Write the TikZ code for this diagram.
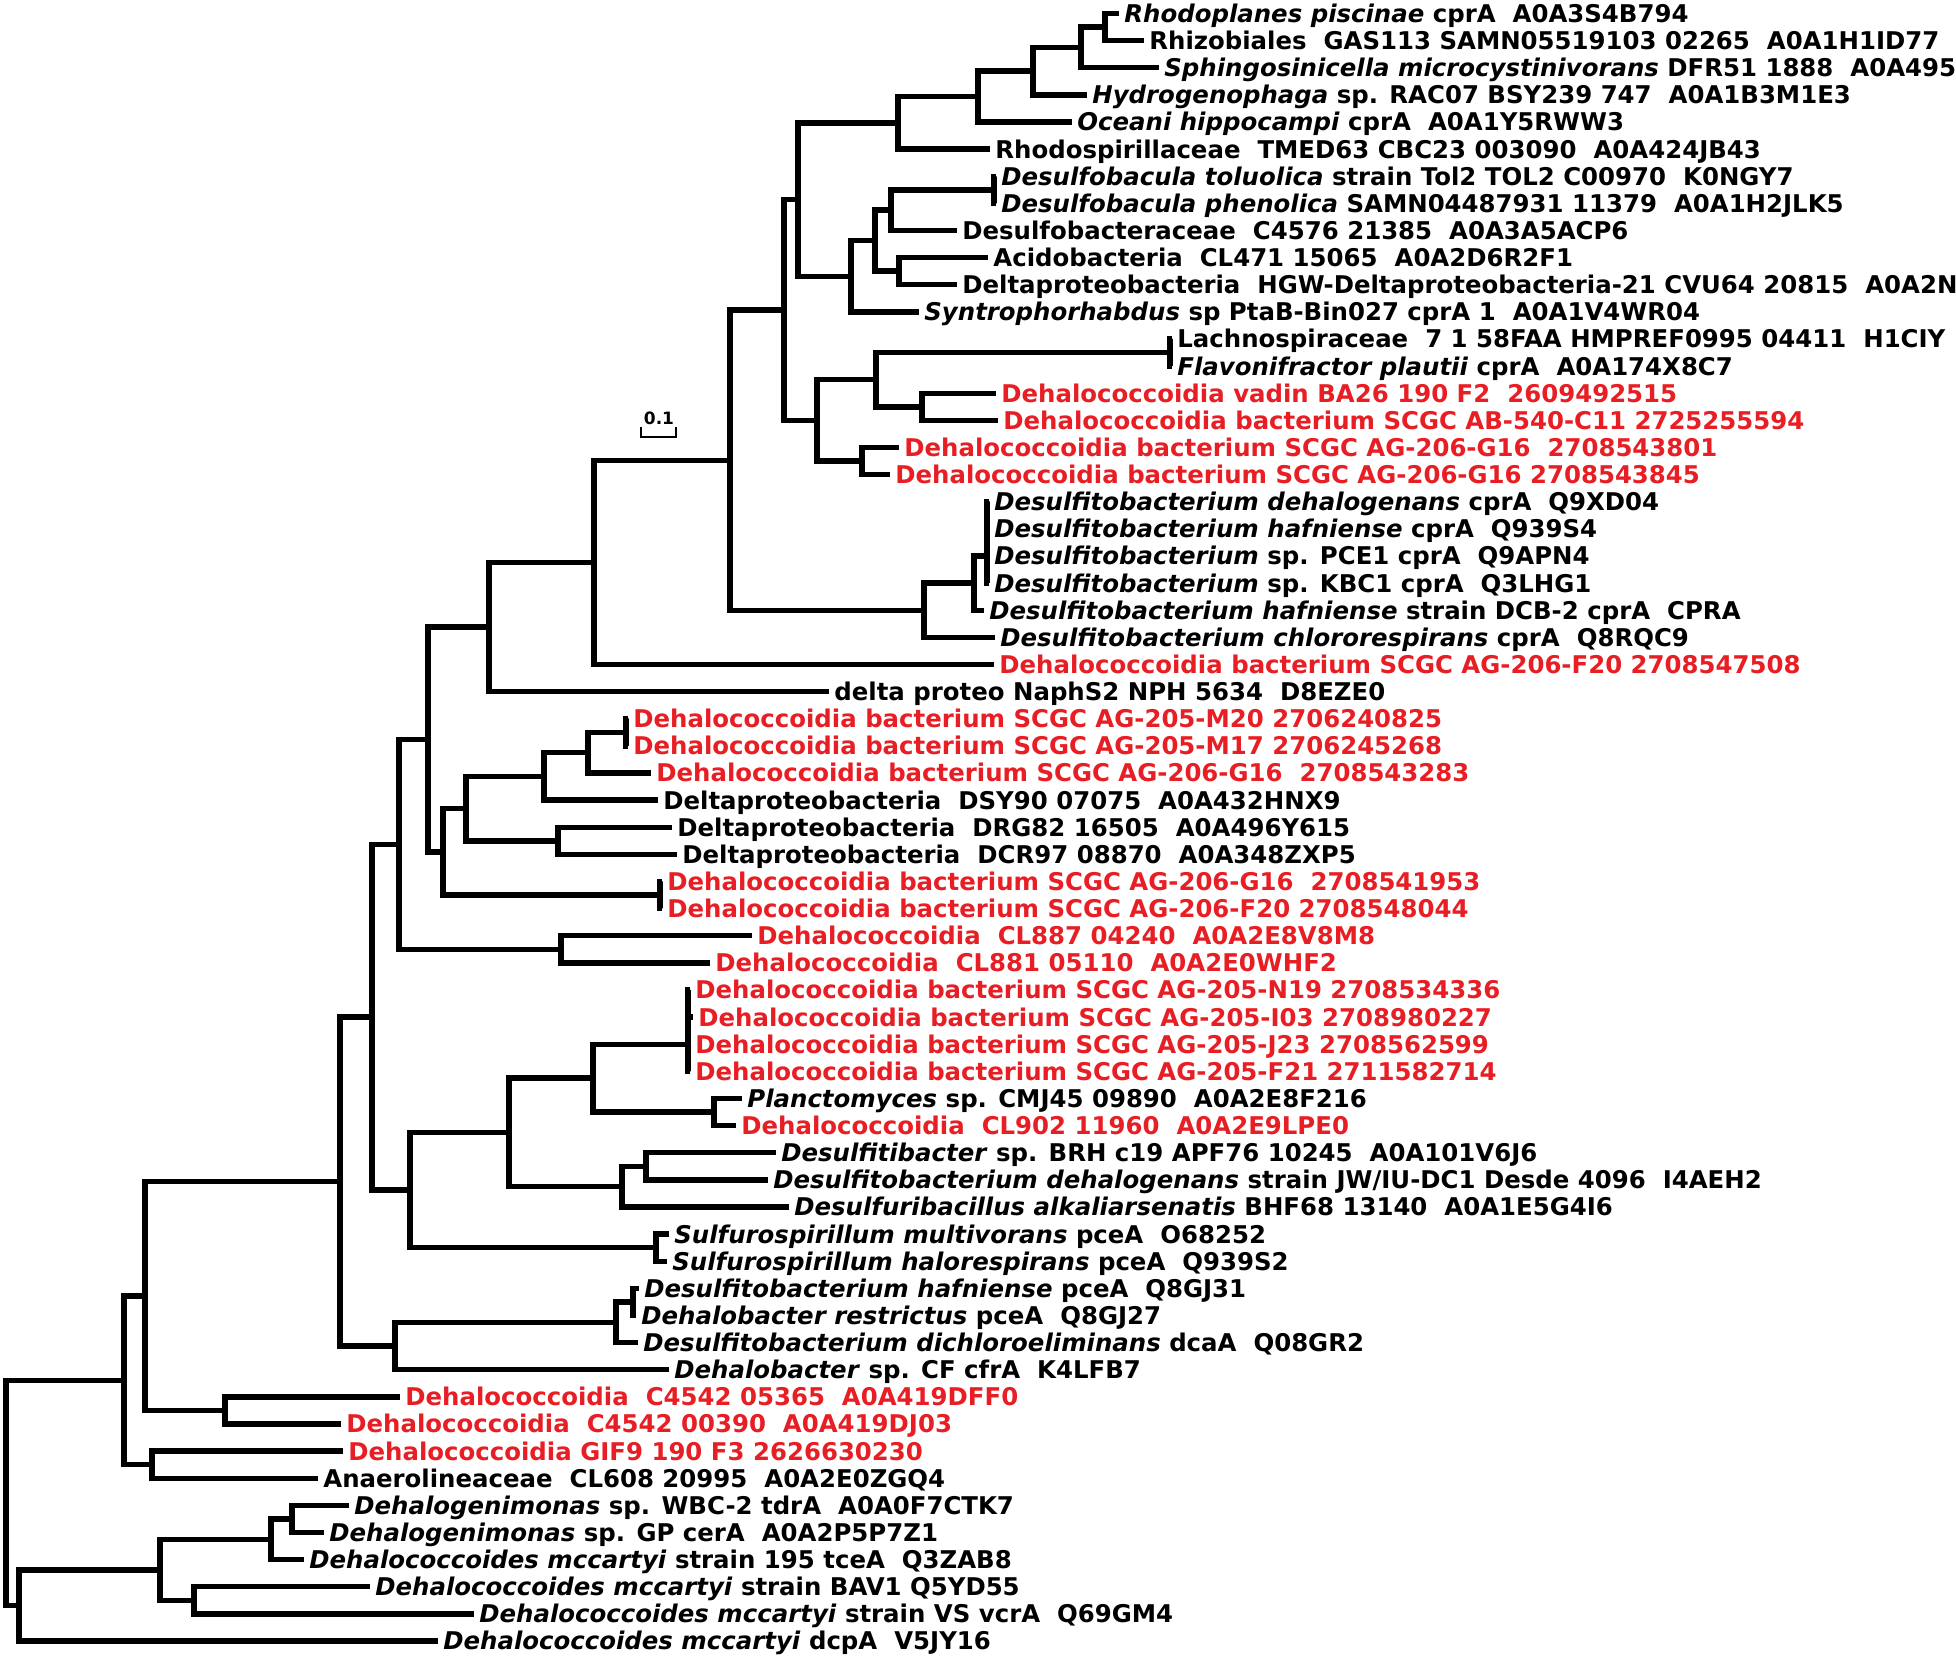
\documentclass[tikz,border=0pt]{standalone}
\usepackage{fontspec}
\setmainfont{DejaVu Sans}
\definecolor{dhcred}{RGB}{232,30,37}
\tikzset{
    branch/.style={line width=2.7pt},
    scalebar/.style={line width=1.2pt},
    taxon/.style={anchor=west, inner xsep=2.5pt, inner ysep=0pt, text height=8.9pt, text depth=0pt,
            font=\bfseries\fontsize{12.2}{12.2}\selectfont},
    dhc/.style={taxon, text=dhcred},
}

\begin{document}
\begin{tikzpicture}[x=0.5pt, y=-13.5625pt]
        \useasboundingbox[fill=white] (0pt,0pt) rectangle (978pt,-830.5pt);
        \begin{scope}[yshift=-6.75pt]
        %taxa, one row each
        \node[taxon] (rhodop) at (1119,0) {\textit{Rhodoplanes piscinae} cprA~~A0A3S4B794};
        \node[taxon] (rhizob) at (1144,1) {Rhizobiales~~GAS113 SAMN05519103 02265~~A0A1H1ID77};
        \node[taxon] (sphing) at (1159,2) {\textit{Sphingosinicella microcystinivorans} DFR51 1888~~A0A495I};
        \node[taxon] (hydrog) at (1087,3) {\textit{Hydrogenophaga} sp. RAC07 BSY239 747~~A0A1B3M1E3};
        \node[taxon] (oceani) at (1072,4) {\textit{Oceani hippocampi} cprA~~A0A1Y5RWW3};
        \node[taxon] (rhodsp) at (990,5) {Rhodospirillaceae~~TMED63 CBC23 003090~~A0A424JB43};
        \node[taxon] (dsbtol) at (996,6) {\textit{Desulfobacula toluolica} strain Tol2 TOL2 C00970~~K0NGY7};
        \node[taxon] (dsbphe) at (996,7) {\textit{Desulfobacula phenolica} SAMN04487931 11379~~A0A1H2JLK5};
        \node[taxon] (dsbcea) at (957,8) {Desulfobacteraceae~~C4576 21385~~A0A3A5ACP6};
        \node[taxon] (acidob) at (988,9) {Acidobacteria~~CL471 15065~~A0A2D6R2F1};
        \node[taxon] (dhgw21) at (957,10) {Deltaproteobacteria~~HGW-Deltaproteobacteria-21 CVU64 20815~~A0A2N};
        \node[taxon] (syntro) at (919,11) {\textit{Syntrophorhabdus} sp PtaB-Bin027 cprA 1~~A0A1V4WR04};
        \node[taxon] (lachno) at (1172,12) {Lachnospiraceae~~7 1 58FAA HMPREF0995 04411~~H1CIY};
        \node[taxon] (flavon) at (1172,13) {\textit{Flavonifractor plautii} cprA~~A0A174X8C7};
        \node[dhc] (vadin) at (996,14) {Dehalococcoidia vadin BA26 190 F2~~2609492515};
        \node[dhc] (ab540) at (998,15) {Dehalococcoidia bacterium SCGC AB-540-C11 2725255594};
        \node[dhc] (gsixa) at (899,16) {Dehalococcoidia bacterium SCGC AG-206-G16~~2708543801};
        \node[dhc] (gsixb) at (890,17) {Dehalococcoidia bacterium SCGC AG-206-G16 2708543845};
        \node[taxon] (dfbdeh) at (989,18) {\textit{Desulfitobacterium dehalogenans} cprA~~Q9XD04};
        \node[taxon] (dfbhaf) at (989,19) {\textit{Desulfitobacterium hafniense} cprA~~Q939S4};
        \node[taxon] (dfbpce) at (989,20) {\textit{Desulfitobacterium} sp. PCE1 cprA~~Q9APN4};
        \node[taxon] (dfbkbc) at (989,21) {\textit{Desulfitobacterium} sp. KBC1 cprA~~Q3LHG1};
        \node[taxon] (dfbdcb) at (984,22) {\textit{Desulfitobacterium hafniense} strain DCB-2 cprA~~CPRA};
        \node[taxon] (dfbchl) at (995,23) {\textit{Desulfitobacterium chlororespirans} cprA~~Q8RQC9};
        \node[dhc] (ftwa) at (994,24) {Dehalococcoidia bacterium SCGC AG-206-F20 2708547508};
        \node[taxon] (naphs) at (829,25) {delta proteo NaphS2 NPH 5634~~D8EZE0};
        \node[dhc] (mtwenty) at (628,26) {Dehalococcoidia bacterium SCGC AG-205-M20 2706240825};
        \node[dhc] (mseven) at (628,27) {Dehalococcoidia bacterium SCGC AG-205-M17 2706245268};
        \node[dhc] (gsixc) at (651,28) {Dehalococcoidia bacterium SCGC AG-206-G16~~2708543283};
        \node[taxon] (dsyn) at (658,29) {Deltaproteobacteria~~DSY90 07075~~A0A432HNX9};
        \node[taxon] (drgn) at (672,30) {Deltaproteobacteria~~DRG82 16505~~A0A496Y615};
        \node[taxon] (dcrn) at (677,31) {Deltaproteobacteria~~DCR97 08870~~A0A348ZXP5};
        \node[dhc] (gsixd) at (662,32) {Dehalococcoidia bacterium SCGC AG-206-G16~~2708541953};
        \node[dhc] (ftwb) at (662,33) {Dehalococcoidia bacterium SCGC AG-206-F20 2708548044};
        \node[dhc] (cleight) at (752,34) {Dehalococcoidia~~CL887 04240~~A0A2E8V8M8};
        \node[dhc] (clone) at (710,35) {Dehalococcoidia~~CL881 05110~~A0A2E0WHF2};
        \node[dhc] (nnine) at (690,36) {Dehalococcoidia bacterium SCGC AG-205-N19 2708534336};
        \node[dhc] (ithree) at (693,37) {Dehalococcoidia bacterium SCGC AG-205-I03 2708980227};
        \node[dhc] (jthree) at (690,38) {Dehalococcoidia bacterium SCGC AG-205-J23 2708562599};
        \node[dhc] (fone) at (690,39) {Dehalococcoidia bacterium SCGC AG-205-F21 2711582714};
        \node[taxon] (plancto) at (742,40) {\textit{Planctomyces} sp. CMJ45 09890~~A0A2E8F216};
        \node[dhc] (clnine) at (736,41) {Dehalococcoidia~~CL902 11960~~A0A2E9LPE0};
        \node[taxon] (dsftib) at (776,42) {\textit{Desulfitibacter} sp. BRH c19 APF76 10245~~A0A101V6J6};
        \node[taxon] (dfbjw) at (768,43) {\textit{Desulfitobacterium dehalogenans} strain JW/IU-DC1 Desde 4096~~I4AEH2};
        \node[taxon] (dsfrib) at (789,44) {\textit{Desulfuribacillus alkaliarsenatis} BHF68 13140~~A0A1E5G4I6};
        \node[taxon] (sulmul) at (669,45) {\textit{Sulfurospirillum multivorans} pceA~~O68252};
        \node[taxon] (sulhal) at (667,46) {\textit{Sulfurospirillum halorespirans} pceA~~Q939S2};
        \node[taxon] (dfbpcea) at (639,47) {\textit{Desulfitobacterium hafniense} pceA~~Q8GJ31};
        \node[taxon] (dhbres) at (636,48) {\textit{Dehalobacter restrictus} pceA~~Q8GJ27};
        \node[taxon] (dfbdca) at (638,49) {\textit{Desulfitobacterium dichloroeliminans} dcaA~~Q08GR2};
        \node[taxon] (dhbcf) at (669,50) {\textit{Dehalobacter} sp. CF cfrA~~K4LFB7};
        \node[dhc] (cfoura) at (400,51) {Dehalococcoidia~~C4542 05365~~A0A419DFF0};
        \node[dhc] (cfourb) at (341,52) {Dehalococcoidia~~C4542 00390~~A0A419DJ03};
        \node[dhc] (gifnine) at (343,53) {Dehalococcoidia GIF9 190 F3 2626630230};
        \node[taxon] (anaero) at (318,54) {Anaerolineaceae~~CL608 20995~~A0A2E0ZGQ4};
        \node[taxon] (dgmwbc) at (349,55) {\textit{Dehalogenimonas} sp. WBC-2 tdrA~~A0A0F7CTK7};
        \node[taxon] (dgmgp) at (324,56) {\textit{Dehalogenimonas} sp. GP cerA~~A0A2P5P7Z1};
        \node[taxon] (dhctce) at (304,57) {\textit{Dehalococcoides mccartyi} strain 195 tceA~~Q3ZAB8};
        \node[taxon] (dhcbav) at (370,58) {\textit{Dehalococcoides mccartyi} strain BAV1 Q5YD55};
        \node[taxon] (dhcvs) at (474,59) {\textit{Dehalococcoides mccartyi} strain VS vcrA~~Q69GM4};
        \node[taxon] (dhcdcp) at (438,60) {\textit{Dehalococcoides mccartyi} dcpA~~V5JY16};
        %inner nodes of the tree
        \coordinate (nrr) at (1105,0.5);
        \coordinate (nsph) at (1081,1.25);
        \coordinate (nhyd) at (1033,2.125);
        \coordinate (noce) at (978,3.06);
        \coordinate (nalp) at (898,4.03);
        \coordinate (ndsb) at (994,6.5);
        \coordinate (ndsc) at (891,7.25);
        \coordinate (naci) at (899,9.5);
        \coordinate (ndlt) at (875,8.375);
        \coordinate (nsyn) at (851,9.69);
        \coordinate (nad) at (798,6.86);
        \coordinate (nlac) at (1170,12.5);
        \coordinate (nvad) at (922,14.5);
        \coordinate (nlv) at (876,13.5);
        \coordinate (ngsix) at (862,16.5);
        \coordinate (ndhx) at (817,15);
        \coordinate (ntop) at (784,10.93);
        \coordinate (ndfc) at (987,19);
        \coordinate (ndfd) at (987,20);
        \coordinate (ndcb) at (974,21);
        \coordinate (nchl) at (924,22);
        \coordinate (ncpr) at (730,16.47);
        \coordinate (nftw) at (594,20.23);
        \coordinate (nnap) at (489,22.62);
        \coordinate (nmtw) at (626,26.5);
        \coordinate (nmse) at (588,27.25);
        \coordinate (ndsy) at (544,28.125);
        \coordinate (ndrg) at (558,30.5);
        \coordinate (ndel) at (466,29.31);
        \coordinate (ngsb) at (660,32.5);
        \coordinate (nmid) at (443,30.91);
        \coordinate (na) at (428,26.76);
        \coordinate (ncl) at (561,34.5);
        \coordinate (nb) at (399,30.63);
        \coordinate (nnc) at (688,37);
        \coordinate (nnd) at (688,38);
        \coordinate (npla) at (714,40.5);
        \coordinate (nnin) at (593,39.25);
        \coordinate (ndtb) at (646,42.5);
        \coordinate (ndsr) at (622,43.25);
        \coordinate (nc) at (509,41.25);
        \coordinate (nsul) at (656,45.5);
        \coordinate (nd) at (410,43.375);
        \coordinate (ne) at (372,37);
        \coordinate (npcb) at (633,47.5);
        \coordinate (npce) at (616,48.25);
        \coordinate (ncf) at (395,49.125);
        \coordinate (nf) at (340,43.06);
        \coordinate (ncfo) at (225,51.5);
        \coordinate (ng) at (145,47.28);
        \coordinate (ngif) at (152,53.5);
        \coordinate (nh) at (124,50.39);
        \coordinate (ndgm) at (292,55.5);
        \coordinate (ntce) at (271,56.25);
        \coordinate (nbav) at (194,58.5);
        \coordinate (ndhc) at (160,57.375);
        \coordinate (ndcp) at (19,58.69);
        \coordinate (root) at (6,54.54);
        %draw branches, parent to child
        \draw[branch] (nrr) |- (rhodop.west);
        \draw[branch] (nrr) |- (rhizob.west);
        \draw[branch] (nsph) |- (nrr);
        \draw[branch] (nsph) |- (sphing.west);
        \draw[branch] (nhyd) |- (nsph);
        \draw[branch] (nhyd) |- (hydrog.west);
        \draw[branch] (noce) |- (nhyd);
        \draw[branch] (noce) |- (oceani.west);
        \draw[branch] (nalp) |- (noce);
        \draw[branch] (nalp) |- (rhodsp.west);
        \draw[branch] (ndsb) |- (dsbtol.west);
        \draw[branch] (ndsb) |- (dsbphe.west);
        \draw[branch] (ndsc) |- (ndsb);
        \draw[branch] (ndsc) |- (dsbcea.west);
        \draw[branch] (naci) |- (acidob.west);
        \draw[branch] (naci) |- (dhgw21.west);
        \draw[branch] (ndlt) |- (ndsc);
        \draw[branch] (ndlt) |- (naci);
        \draw[branch] (nsyn) |- (ndlt);
        \draw[branch] (nsyn) |- (syntro.west);
        \draw[branch] (nad) |- (nalp);
        \draw[branch] (nad) |- (nsyn);
        \draw[branch] (nlac) |- (lachno.west);
        \draw[branch] (nlac) |- (flavon.west);
        \draw[branch] (nvad) |- (vadin.west);
        \draw[branch] (nvad) |- (ab540.west);
        \draw[branch] (nlv) |- (nlac);
        \draw[branch] (nlv) |- (nvad);
        \draw[branch] (ngsix) |- (gsixa.west);
        \draw[branch] (ngsix) |- (gsixb.west);
        \draw[branch] (ndhx) |- (nlv);
        \draw[branch] (ndhx) |- (ngsix);
        \draw[branch] (ntop) |- (nad);
        \draw[branch] (ntop) |- (ndhx);
        \draw[branch] (ndfc) |- (dfbdeh.west);
        \draw[branch] (ndfc) |- (dfbhaf.west);
        \draw[branch] (ndfc) |- (dfbpce.west);
        \draw[branch] (ndfd) |- (ndfc);
        \draw[branch] (ndfd) |- (dfbkbc.west);
        \draw[branch] (ndcb) |- (ndfd);
        \draw[branch] (ndcb) |- (dfbdcb.west);
        \draw[branch] (nchl) |- (ndcb);
        \draw[branch] (nchl) |- (dfbchl.west);
        \draw[branch] (ncpr) |- (ntop);
        \draw[branch] (ncpr) |- (nchl);
        \draw[branch] (nftw) |- (ncpr);
        \draw[branch] (nftw) |- (ftwa.west);
        \draw[branch] (nnap) |- (nftw);
        \draw[branch] (nnap) |- (naphs.west);
        \draw[branch] (nmtw) |- (mtwenty.west);
        \draw[branch] (nmtw) |- (mseven.west);
        \draw[branch] (nmse) |- (nmtw);
        \draw[branch] (nmse) |- (gsixc.west);
        \draw[branch] (ndsy) |- (nmse);
        \draw[branch] (ndsy) |- (dsyn.west);
        \draw[branch] (ndrg) |- (drgn.west);
        \draw[branch] (ndrg) |- (dcrn.west);
        \draw[branch] (ndel) |- (ndsy);
        \draw[branch] (ndel) |- (ndrg);
        \draw[branch] (ngsb) |- (gsixd.west);
        \draw[branch] (ngsb) |- (ftwb.west);
        \draw[branch] (nmid) |- (ndel);
        \draw[branch] (nmid) |- (ngsb);
        \draw[branch] (na) |- (nnap);
        \draw[branch] (na) |- (nmid);
        \draw[branch] (ncl) |- (cleight.west);
        \draw[branch] (ncl) |- (clone.west);
        \draw[branch] (nb) |- (na);
        \draw[branch] (nb) |- (ncl);
        \draw[branch] (nnc) |- (nnine.west);
        \draw[branch] (nnc) |- (ithree.west);
        \draw[branch] (nnc) |- (jthree.west);
        \draw[branch] (nnd) |- (nnc);
        \draw[branch] (nnd) |- (fone.west);
        \draw[branch] (npla) |- (plancto.west);
        \draw[branch] (npla) |- (clnine.west);
        \draw[branch] (nnin) |- (nnd);
        \draw[branch] (nnin) |- (npla);
        \draw[branch] (ndtb) |- (dsftib.west);
        \draw[branch] (ndtb) |- (dfbjw.west);
        \draw[branch] (ndsr) |- (ndtb);
        \draw[branch] (ndsr) |- (dsfrib.west);
        \draw[branch] (nc) |- (nnin);
        \draw[branch] (nc) |- (ndsr);
        \draw[branch] (nsul) |- (sulmul.west);
        \draw[branch] (nsul) |- (sulhal.west);
        \draw[branch] (nd) |- (nc);
        \draw[branch] (nd) |- (nsul);
        \draw[branch] (ne) |- (nb);
        \draw[branch] (ne) |- (nd);
        \draw[branch] (npcb) |- (dfbpcea.west);
        \draw[branch] (npcb) |- (dhbres.west);
        \draw[branch] (npce) |- (npcb);
        \draw[branch] (npce) |- (dfbdca.west);
        \draw[branch] (ncf) |- (npce);
        \draw[branch] (ncf) |- (dhbcf.west);
        \draw[branch] (nf) |- (ne);
        \draw[branch] (nf) |- (ncf);
        \draw[branch] (ncfo) |- (cfoura.west);
        \draw[branch] (ncfo) |- (cfourb.west);
        \draw[branch] (ng) |- (nf);
        \draw[branch] (ng) |- (ncfo);
        \draw[branch] (ngif) |- (gifnine.west);
        \draw[branch] (ngif) |- (anaero.west);
        \draw[branch] (nh) |- (ng);
        \draw[branch] (nh) |- (ngif);
        \draw[branch] (ndgm) |- (dgmwbc.west);
        \draw[branch] (ndgm) |- (dgmgp.west);
        \draw[branch] (ntce) |- (ndgm);
        \draw[branch] (ntce) |- (dhctce.west);
        \draw[branch] (nbav) |- (dhcbav.west);
        \draw[branch] (nbav) |- (dhcvs.west);
        \draw[branch] (ndhc) |- (ntce);
        \draw[branch] (ndhc) |- (nbav);
        \draw[branch] (ndcp) |- (ndhc);
        \draw[branch] (ndcp) |- (dhcdcp.west);
        \draw[branch] (root) |- (nh);
        \draw[branch] (root) |- (ndcp);
        %scale bar
        \coordinate (sbl) at (641,15.61);
        \coordinate (sbr) at (676,15.61);
        \draw[scalebar] (sbl) ++(0,-0.37) -- (sbl) -- (sbr) -- ++(0,-0.37);
        \node[anchor=base, inner sep=0pt, font=\bfseries\fontsize{8.5}{8.5}\selectfont] (sblabel) at (659,15.17) {0.1};
        \end{scope}
    \end{tikzpicture}
\end{document}
